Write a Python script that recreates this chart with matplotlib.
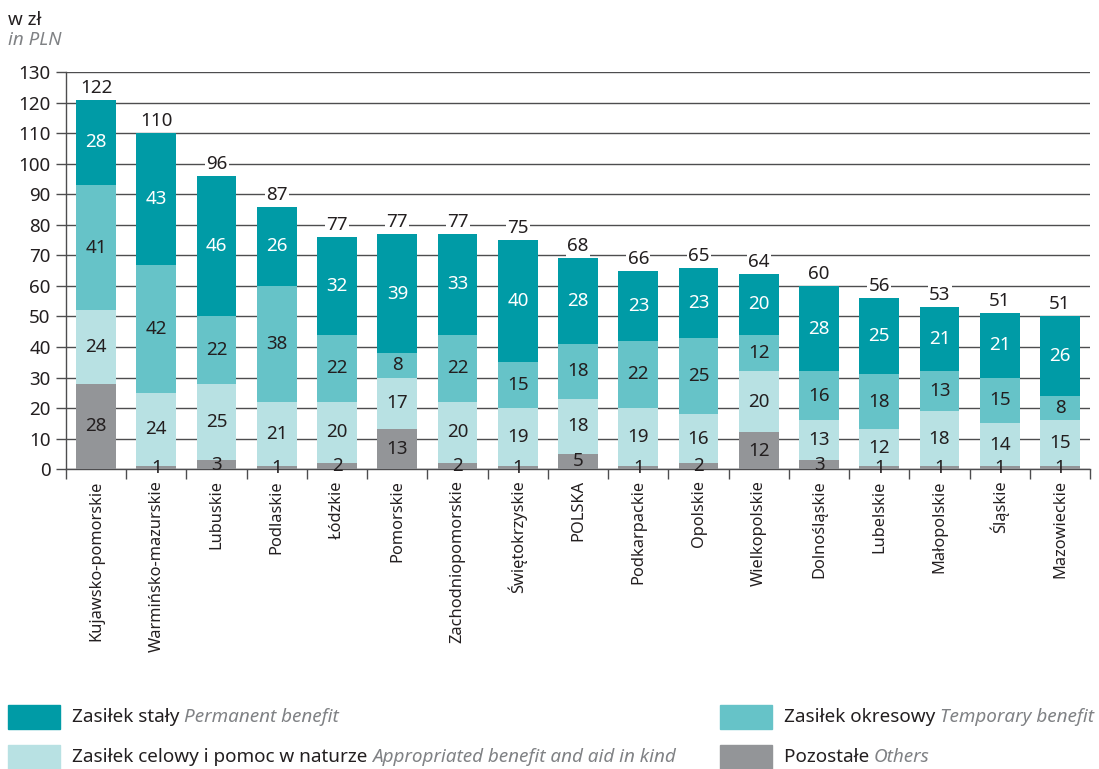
import matplotlib.pyplot as plt
import numpy as np
from matplotlib.patches import Rectangle

plt.rcParams['font.family'] = ['Noto Sans', 'DejaVu Sans']

regions = ['Kujawsko-pomorskie', 'Warmińsko-mazurskie', 'Lubuskie', 'Podlaskie', 'Łódzkie',
           'Pomorskie', 'Zachodniopomorskie', 'Świętokrzyskie', 'POLSKA', 'Podkarpackie',
           'Opolskie', 'Wielkopolskie', 'Dolnośląskie', 'Lubelskie', 'Małopolskie',
           'Śląskie', 'Mazowieckie']
others = [28, 1, 3, 1, 2, 13, 2, 1, 5, 1, 2, 12, 3, 1, 1, 1, 1]
appropriated = [24, 24, 25, 21, 20, 17, 20, 19, 18, 19, 16, 20, 13, 12, 18, 14, 15]
temporary = [41, 42, 22, 38, 22, 8, 22, 15, 18, 22, 25, 12, 16, 18, 13, 15, 8]
permanent = [28, 43, 46, 26, 32, 39, 33, 40, 28, 23, 23, 20, 28, 25, 21, 21, 26]
totals = [122, 110, 96, 87, 77, 77, 77, 75, 68, 66, 65, 64, 60, 56, 53, 51, 51]

c_perm = '#009ba6'
c_temp = '#66c3c8'
c_appr = '#b8e1e3'
c_oth = '#939598'
txt = '#231f20'
fs = 13.5      # numbers
fs_lab = 11.8  # region names
fs_leg = 13.6

fig = plt.figure(figsize=(10.99, 7.69), dpi=100)
ax = fig.add_axes([0.060, 0.390, 0.932, 0.516])

x = np.arange(len(regions))
w = 0.66
series = [(others, c_oth, txt), (appropriated, c_appr, txt),
          (temporary, c_temp, txt), (permanent, c_perm, 'white')]
bottom = np.zeros(len(regions))
for vals, col, tc in series:
    vals = np.array(vals, dtype=float)
    ax.bar(x, vals, w, bottom=bottom, color=col, zorder=3)
    for xi, b, v in zip(x, bottom, vals):
        ax.text(xi, b + v / 2, str(int(v)), ha='center', va='center',
                fontsize=fs, color=tc, zorder=4)
    bottom += vals

for xi, b, t in zip(x, bottom, totals):
    ax.text(xi, b + 1.0, str(t), ha='center', va='bottom', fontsize=fs, color=txt, zorder=4,
            bbox=dict(facecolor='white', edgecolor='none', pad=1))

ax.set_xlim(-0.5, len(regions) - 0.5)
ax.set_ylim(0, 130)
ax.set_yticks(np.arange(0, 131, 10))
ax.tick_params(axis='y', labelsize=fs, colors=txt, length=7, width=1, color='#4d4d4f', pad=4)
ax.yaxis.grid(True, color='#4d4d4f', linewidth=1, zorder=0)
ax.set_axisbelow(True)

ax.set_xticks(x)
ax.set_xticklabels(regions, rotation=90, fontsize=fs_lab, color=txt)
ax.tick_params(axis='x', length=0, pad=8)
ax.set_xticks(np.arange(-0.5, len(regions) + 0.5, 1), minor=True)
ax.tick_params(axis='x', which='minor', length=7, width=1, color='#4d4d4f')

for s in ['top', 'right']:
    ax.spines[s].set_visible(False)
for s in ['left', 'bottom']:
    ax.spines[s].set_color('#4d4d4f')
    ax.spines[s].set_linewidth(1)

fig.text(8 / 1099, 1 - 20 / 769, 'w zł', fontsize=fs, color=txt, va='center')
fig.text(8 / 1099, 1 - 40 / 769, 'in PLN', fontsize=fs, color='#808285', style='italic', va='center')

legend_items = [
    (8, 717, c_perm, 'Zasiłek stały', 'Permanent benefit'),
    (720, 717, c_temp, 'Zasiłek okresowy', 'Temporary benefit'),
    (8, 757, c_appr, 'Zasiłek celowy i pomoc w naturze', 'Appropriated benefit and aid in kind'),
    (720, 757, c_oth, 'Pozostałe', 'Others'),
]
for px, py, col, pl, en in legend_items:
    fig.patches.append(Rectangle((px / 1099, 1 - (py + 12) / 769), 52 / 1099, 24 / 769,
                                 transform=fig.transFigure, color=col))
    t = fig.text((px + 64) / 1099, 1 - py / 769, pl + ' ', fontsize=fs_leg, color=txt, va='center')
    fig.canvas.draw()
    bb = t.get_window_extent()
    fig.text(bb.x1 / fig.bbox.width, 1 - py / 769, en, fontsize=fs_leg, color='#808285',
             style='italic', va='center')

fig.savefig('out.png', dpi=100)
